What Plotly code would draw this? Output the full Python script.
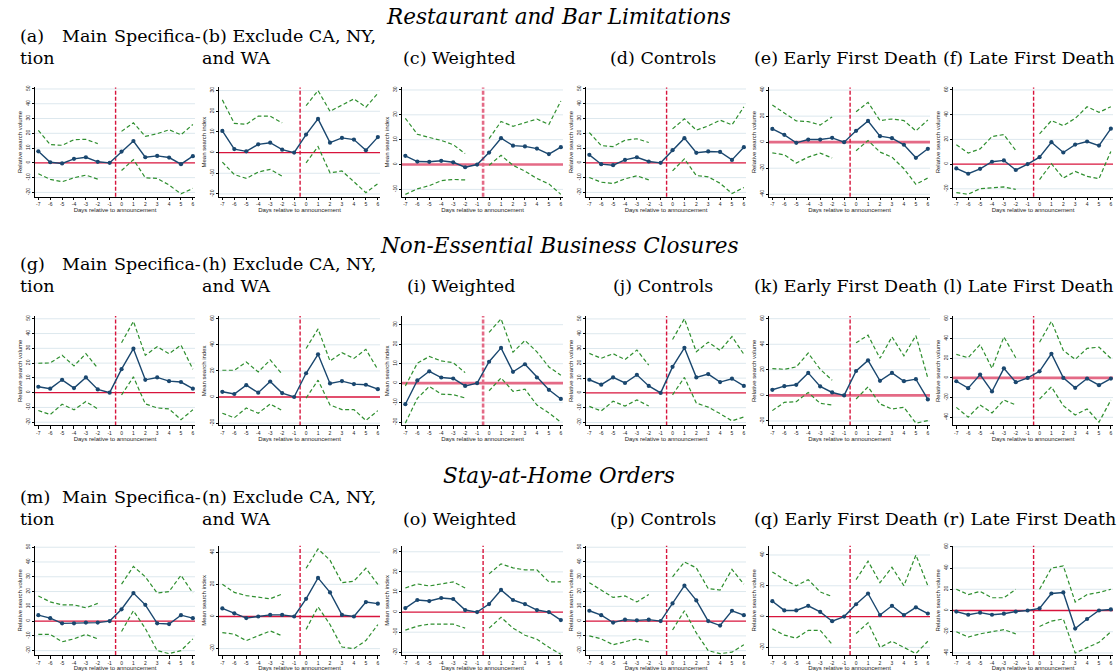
import plotly.graph_objects as go

W, H = 1117, 671

days = [-7, -6, -5, -4, -3, -2, -1, 0, 1, 2, 3, 4, 5, 6]

# ---------------- Restaurant and Bar Limitations ----------------
a_est = [7.8, 0.4, -0.4, 2.7, 3.8, 0.7, 0, 7.6, 14.8, 3.8, 4.7, 3.6, -0.9, 4.5]
a_hi = [22, 12.3, 11.9, 15.7, 15.9, 13, None, 21.3, 27.1, 17.9, 19.7, 22.4, 19, 26]
a_lo = [-7.4, -11.2, -12.8, -10.1, -8.3, -11, None, -5.2, 2.2, -10.1, -10.5, -15, -21, -17.3]

b_est = [10.5, 1.7, 0.6, 4, 4.8, 1.4, 0, 8.7, 16.3, 4.8, 7.1, 6.3, 1.1, 7.5]
b_hi = [25.5, 14.1, 13.7, 17.6, 17.6, 14.4, None, 22.7, 30, 20, 22.9, 26, 22, 28.7]
b_lo = [-4.6, -10.6, -12.5, -9.4, -8.1, -11.4, None, -5, 2.9, -9.8, -8.9, -14.1, -19.4, -15]

c_est = [3.5, 1.2, 1.1, 1.5, 0.9, -1.1, 0, 4.8, 10.6, 7.6, 7.3, 6.4, 4.2, 7]
c_hi = [18.6, 12.2, 10.9, 9.7, 8, 4.4, None, 10.4, 17.3, 15.4, 17, 18.3, 16.1, 25.6]
c_lo = [-12, -9.8, -8.5, -6.5, -6, -6.2, None, -0.3, 3.7, -0.3, -2.7, -5.6, -7.8, -12]

d_est = [5.4, -0.9, -1.6, 2, 3.8, 0.9, 0, 8.6, 16.7, 6.8, 7.7, 7.4, 2, 10.6]
d_hi = [20.5, 11.7, 11, 15.3, 16.3, 13.8, None, 23, 29.8, 22.1, 25, 28.9, 25.7, 37.9]
d_lo = [-9.9, -13.1, -14, -10.8, -8.8, -11.5, None, -5.4, 2.7, -8.6, -9.5, -13.8, -20.8, -16.7]

e_est = [10.2, 5.6, -0.5, 2, 2, 3.3, 0, 8.7, 16.3, 4.6, 3.1, -2, -12, -5.1]
e_hi = [28.5, 22.2, 16.3, 15.8, 13.2, 19.4, None, 23.4, 30.6, 16.6, 17.8, 16.6, 8.7, 17]
e_lo = [-8.2, -9.7, -16, -11.5, -8.4, -12.2, None, -6.6, 1.3, -7.6, -11.5, -20.4, -32.4, -27.5]

f_est = [-3.5, -7.8, -3.8, 1.9, 3, -4.8, 0, 5.6, 17.7, 9.4, 15.8, 18.3, 15, 28.7]
f_hi = [15.6, 8.9, 12.3, 22.3, 23.9, 11, None, 24.4, 35.2, 31.1, 37, 46.4, 41.9, 46.4]
f_lo = [-23.1, -24.4, -19.9, -19.1, -18.5, -20.4, None, -12.6, 0.3, -11.3, -5.9, -9.9, -11.8, 10.2]

# ---------------- Non-Essential Business Closures ----------------
g_est = [4, 2.7, 8.7, 3.1, 10.3, 2.2, 0, 15.9, 29.8, 8.7, 10.3, 7.8, 7.2, 2.7]
g_hi = [19.9, 20.1, 25.3, 18.1, 26.4, 16.6, None, 33.8, 48.3, 25.3, 31.1, 26.4, 32.2, 15.9]
g_lo = [-12.1, -14.8, -7.8, -11.6, -6, -11, None, -1.6, 10.7, -7.6, -10.3, -11, -18.3, -11.6]

h_est = [4, 2.3, 9.1, 3.3, 11.9, 3, 0, 18.2, 32.7, 10.4, 12.2, 9.9, 9.4, 6]
h_hi = [20.5, 20.5, 26.8, 19.2, 28.4, 17.5, None, 37.2, 52.2, 27.6, 33.9, 29.6, 36.5, 21]
h_lo = [-12.4, -15.9, -8.4, -12.4, -5.3, -10.4, None, -0.8, 12.9, -6.1, -9.6, -9.6, -18, -10.4]

i_est = [-10.8, 1.4, 6.1, 2.9, 2.4, -1.4, 0, 11, 18.1, 5.8, 9.7, 2.9, -3.4, -8.1]
i_hi = [-1.4, 10.2, 13.7, 11.4, 10.5, 5.4, None, 26.1, 33, 15.9, 21.9, 16.1, 8.3, 4.1]
i_lo = [-20.5, -7.8, -1.7, -5.6, -5.9, -7.6, None, -3.9, 2.7, -4.2, -3.1, -11.2, -15.3, -20]

j_est = [8.9, 5.6, 10.5, 6.7, 12.2, 4.7, 0, 17.6, 30.5, 10.5, 12.7, 7.3, 9.6, 4.7]
j_hi = [26.7, 23.4, 26.5, 22.5, 29, 18.7, None, 36.1, 50.1, 27.8, 34.3, 28.7, 38.1, 26.1]
j_lo = [-9.1, -12.2, -5.6, -8.9, -4.7, -8.9, None, -1.3, 10.5, -6.9, -9.6, -14, -18.9, -16.3]

k_est = [4.4, 7.2, 8.3, 17.6, 7, 2.3, 0, 19.1, 27.4, 11.4, 17.6, 11.1, 12.7, -3.1]
k_hi = [21, 20.4, 22.3, 33.1, 20.4, 11.9, None, 41.1, 47.1, 29, 45.8, 31, 46.8, 13.5]
k_lo = [-11.9, -5.4, -4.9, 2.3, -6.2, -7.5, None, -2.8, 6.7, -6.7, -10.6, -9.3, -21.7, -19.7]

l_est = [-3.4, -10.4, 3.4, -13.8, 9.7, -4.4, 0, 6.7, 24.5, 0, -10.1, -0.7, -7.4, -0.7]
l_hi = [23.8, 20.5, 33.9, 9.7, 41.6, 20.5, None, 36.2, 57.4, 27.9, 18.8, 29.9, 31.2, 19.8]
l_lo = [-29.9, -39.9, -27.5, -35.6, -22.5, -27.5, None, -21.5, -9.1, -28.2, -37.6, -31.5, -45, -22.5]

# ---------------- Stay-at-Home Orders ----------------
m_est = [4, 2, -1.5, -1.5, -1, -1, 0, 8, 19, 11, -1.5, -2, 4, 2]
m_hi = [17, 13, 11, 11, 9, 12, None, 25, 37, 30, 19, 20, 31, 19]
m_lo = [-9, -9, -14, -12, -9, -12, None, -7, 7, -5, -20, -22, -20, -12]

n_est = [5, 2, -1, 0, 1, 1, 0, 11, 24, 15, 1, 0, 9, 8]
n_hi = [20, 15, 13, 12, 11, 14, None, 30, 42, 35, 21, 22, 30, 20]
n_lo = [-10, -11, -15, -12, -9, -12, None, -8, 6, -5, -19, -20, -15, -5]

o_est = [2, 6, 5.5, 7, 6.5, 1, 0, 4, 11, 6, 4, 1, 0, -4]
o_hi = [12, 14, 13, 14, 15, 12, None, 19, 24, 22, 21, 21, 15, 15]
o_lo = [-9, -7, -6, -6, -6, -8, None, -8, -2.6, -8, -11.5, -13.5, -17.5, -21]

p_est = [7, 4, -1, 1, 0.5, 1, 0, 12, 24, 14, 0, -3, 7, 4]
p_hi = [26, 21, 16, 17, 13, 18, None, 30, 40, 36, 22, 21, 35, 25]
p_lo = [-10, -12, -16, -14, -12, -14, None, -6, 7, -8, -20, -22, -21, -16]

q_est = [10, 4, 4, 7, 3, -3, 0, 8, 15, 1, 7, 1, 6, 2]
q_hi = [29, 24, 20, 24, 16, 13, None, 24, 36, 22, 32, 20, 40, 20]
q_lo = [-8, -12, -14, -9, -9, -18, None, -11, -4, -20, -16, -20, -24, -16]

r_est = [-1, -4, -2, -4, -3, -1, 0, 2, 16, 17, -17, -8, 0, 1]
r_hi = [20, 15, 18, 12, 12, 20, None, 20, 40, 42, 8, 15, 17, 20]
r_lo = [-20, -25, -22, -20, -18, -22, None, -15, -10, -8, -40, -35, -30, -20]

section_titles = ["Restaurant and Bar Limitations",
                  "Non-Essential Business Closures",
                  "Stay-at-Home Orders"]

RSV = "Relative search volume"
MSI = "Mean search index"

# label, y-axis title, tick bounds/step, axis range, heavy reference lines
panels = [
    ("a", a_est, a_hi, a_lo, RSV, (-20, 50, 10), (-23, 51), (False, False)),
    ("b", b_est, b_hi, b_lo, MSI, (-20, 30, 10), (-21.4, 31.5), (False, False)),
    ("c", c_est, c_hi, c_lo, MSI, (-10, 30, 10), (-13, 31), (True, True)),
    ("d", d_est, d_hi, d_lo, RSV, (-20, 50, 10), (-23, 51), (False, False)),
    ("e", e_est, e_hi, e_lo, RSV, (-40, 40, 20), (-42, 42), (True, False)),
    ("f", f_est, f_hi, f_lo, RSV, (-20, 60, 20), (-26.5, 62), (False, False)),
    ("g", g_est, g_hi, g_lo, RSV, (-20, 50, 10), (-22.2, 51.8), (False, False)),
    ("h", h_est, h_hi, h_lo, MSI, (-20, 60, 20), (-21.8, 62), (False, False)),
    ("i", i_est, i_hi, i_lo, MSI, (-20, 30, 10), (-21.7, 34.4), (True, True)),
    ("j", j_est, j_hi, j_lo, RSV, (-20, 50, 10), (-22, 51.9), (False, False)),
    ("k", k_est, k_hi, k_lo, RSV, (-20, 60, 20), (-23.5, 62), (True, False)),
    ("l", l_est, l_hi, l_lo, RSV, (-40, 60, 20), (-48.3, 62.7), (True, False)),
    ("m", m_est, m_hi, m_lo, RSV, (-20, 50, 10), (-23, 51), (False, False)),
    ("n", n_est, n_hi, n_lo, MSI, (-20, 40, 20), (-24, 44), (False, False)),
    ("o", o_est, o_hi, o_lo, MSI, (-20, 30, 10), (-21.4, 33), (False, False)),
    ("p", p_est, p_hi, p_lo, RSV, (-20, 50, 10), (-23, 51), (False, False)),
    ("q", q_est, q_hi, q_lo, RSV, (-20, 40, 20), (-25, 46), (False, False)),
    ("r", r_est, r_hi, r_lo, RSV, (-40, 60, 20), (-42, 61), (False, False)),
]

# column plot areas (px) and row plot areas (px)
col_px = [(35, 195), (219, 380), (402, 563), (586, 746), (769, 930), (953, 1113)]
row_px = [(85, 195), (315, 425), (546, 656)]
title_y = [14, 244, 475]
sub_y = [(33, 55), (263, 285), (497, 519)]

NAVY = "#1a476f"
GREEN = "#2f8f2f"
RED = "#d8143c"
PINK = "#e46a86"
GRID = "#dde8ee"

SERIF = "DejaVu Serif"
SANS = "Liberation Sans"


def fx(px):
    return px / W


def fy(py):
    return 1 - py / H


fig = go.Figure()
layout = dict(
    width=W, height=H, margin=dict(l=0, r=0, t=0, b=0),
    paper_bgcolor="white", plot_bgcolor="white", showlegend=False,
)
grid_shapes = []
ref_shapes = []
annotations = []

for idx, (lab, est, hi, lo, ytitle, tk, yr, heavy) in enumerate(panels):
    r, c = divmod(idx, 6)
    n = idx + 1
    xa = "x" if n == 1 else f"x{n}"
    ya = "y" if n == 1 else f"y{n}"
    xkey = "xaxis" if n == 1 else f"xaxis{n}"
    ykey = "yaxis" if n == 1 else f"yaxis{n}"
    x0, x1 = col_px[c]
    y0, y1 = row_px[r]
    h_heavy, v_heavy = heavy

    for band in (hi, lo):
        fig.add_trace(go.Scatter(
            x=days, y=band, mode="lines", xaxis=xa, yaxis=ya,
            line=dict(color=GREEN, width=1.2, dash="4px,2.5px"),
            connectgaps=False, hoverinfo="skip"))
    fig.add_trace(go.Scatter(
        x=days, y=est, mode="lines+markers", xaxis=xa, yaxis=ya,
        line=dict(color=NAVY, width=1.4),
        marker=dict(color=NAVY, size=4.2, symbol="circle")))

    lo_t, hi_t, step = tk
    tickvals = list(range(lo_t, hi_t + 1, step))

    layout[xkey] = dict(
        domain=[fx(x0), fx(x1)], anchor=ya, range=[-7.28, 6.18],
        tickmode="array", tickvals=days, ticktext=[str(d) for d in days],
        ticks="outside", ticklen=2.5, tickwidth=0.8, tickcolor="black",
        showline=True, linecolor="black", linewidth=1, showgrid=False,
        zeroline=False, tickfont=dict(family=SANS, size=5, color="#222"),
        title=dict(text="Days relative to announcement",
                   font=dict(family=SANS, size=6, color="#222"), standoff=1),
    )
    layout[ykey] = dict(
        domain=[fy(y1), fy(y0)], anchor=xa, range=list(yr),
        tickmode="array", tickvals=tickvals,
        ticktext=[str(v) for v in tickvals], tickangle=-90,
        ticks="outside", ticklen=2.5, tickwidth=0.8, tickcolor="black",
        showline=True, linecolor="black", linewidth=1,
        showgrid=False, zeroline=False,
        tickfont=dict(family=SANS, size=5, color="#222"),
        title=dict(text=ytitle, font=dict(family=SANS, size=6, color="#222"),
                   standoff=1),
    )

    # light horizontal gridlines at the labelled ticks
    for v in tickvals:
        if v == 0:
            continue
        grid_shapes.append(dict(
            type="line", xref=f"{xa} domain", yref=ya, x0=0, x1=1, y0=v, y1=v,
            line=dict(color=GRID, width=1), layer="below"))

    # zero reference line and announcement marker between day -1 and day 0
    ref_shapes.append(dict(
        type="line", xref=f"{xa} domain", yref=ya, x0=0, x1=1, y0=0, y1=0,
        line=dict(color=PINK if h_heavy else RED, width=2.6 if h_heavy else 1.4),
        layer="below"))
    ref_shapes.append(dict(
        type="line", xref=xa, yref=f"{ya} domain", x0=-0.5, x1=-0.5, y0=0, y1=1,
        line=dict(color=PINK if v_heavy else RED, width=2.6 if v_heavy else 1.4,
                  dash="4px,2px"),
        layer="below"))

# section headings
for r, t in enumerate(section_titles):
    annotations.append(dict(
        text=f"<i>{t}</i>", x=0.5, y=fy(title_y[r]), xref="paper", yref="paper",
        xanchor="center", yanchor="middle", showarrow=False,
        font=dict(family=SERIF, size=21.5, color="black")))

# panel captions: (text, left px, line index)
captions = [
    [("(a)", 18, 0), ("Main", 60, 0), ("Specifica-", 112, 0), ("tion", 18, 1),
     ("(b) Exclude CA, NY,", 200, 0), ("and WA", 200, 1),
     ("(c) Weighted", 401, 1), ("(d) Controls", 608, 1),
     ("(e) Early First Death", 752, 1), ("(f) Late First Death", 941, 1)],
    [("(g)", 18, 0), ("Main", 60, 0), ("Specifica-", 112, 0), ("tion", 18, 1),
     ("(h) Exclude CA, NY,", 200, 0), ("and WA", 200, 1),
     ("(i) Weighted", 405, 1), ("(j) Controls", 611, 1),
     ("(k) Early First Death", 752, 1), ("(l) Late First Death", 941, 1)],
    [("(m)", 18, 0), ("Main", 60, 0), ("Specifica-", 112, 0), ("tion", 18, 1),
     ("(n) Exclude CA, NY,", 200, 0), ("and WA", 200, 1),
     ("(o) Weighted", 401, 1), ("(p) Controls", 608, 1),
     ("(q) Early First Death", 752, 1), ("(r) Late First Death", 941, 1)],
]
for r, row in enumerate(captions):
    for text, left, line in row:
        annotations.append(dict(
            text=text, x=fx(left), y=fy(sub_y[r][line]), xref="paper",
            yref="paper", xanchor="left", yanchor="middle", showarrow=False,
            font=dict(family=SERIF, size=17.5, color="black")))

layout["shapes"] = grid_shapes + ref_shapes
layout["annotations"] = annotations
fig.update_layout(**layout)
fig.write_html("out.html")
